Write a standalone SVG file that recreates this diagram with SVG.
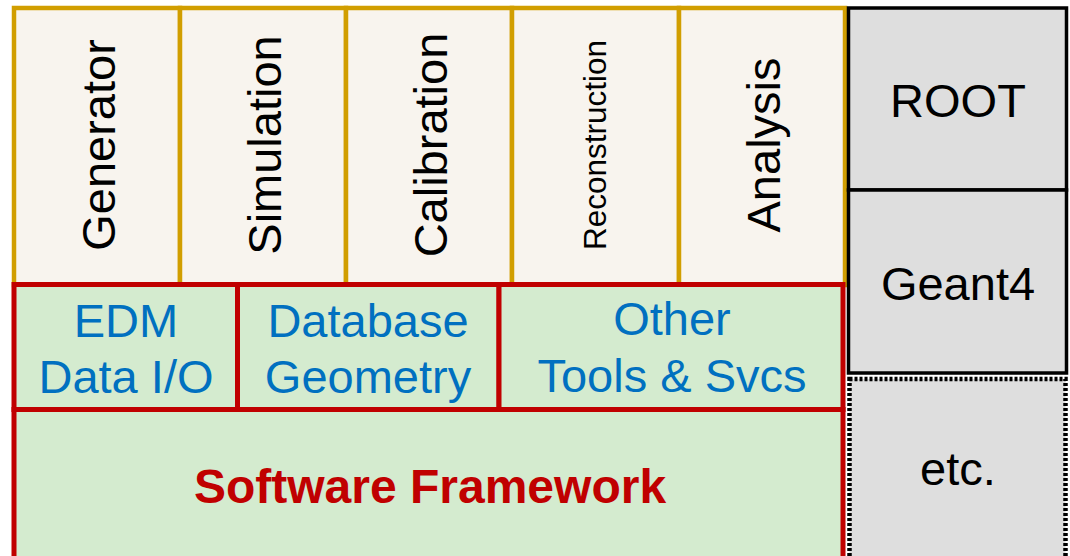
<svg xmlns="http://www.w3.org/2000/svg" width="1070" height="556" viewBox="0 0 1070 556">
  <style>
    .app { fill: #F8F4EE; stroke: #D19E00; stroke-width: 4.5; }
    .svc { fill: #D4EBCF; stroke: #C00000; stroke-width: 5; }
    .ext { fill: #DEDEDE; stroke: #000000; stroke-width: 3.5; }
    .ext-dot { fill: #DEDEDE; stroke: #000000; stroke-width: 4.5; stroke-dasharray: 3 2; }
    text { font-family: "Liberation Sans", Arial, sans-serif; }
    .vlabel { font-size: 47px; fill: #000000; text-anchor: middle; }
    .blue { font-size: 47px; fill: #0070C0; text-anchor: middle; }
    .black { font-size: 47px; fill: #000000; text-anchor: middle; }
    .frame { font-size: 48px; font-weight: bold; fill: #C00000; text-anchor: middle; }
  </style>

  <!-- application layer: five vertical modules -->
  <g id="generator">
    <rect class="app" x="14" y="8" width="166" height="277"/>
    <text class="vlabel" transform="translate(115,145) rotate(-90)">Generator</text>
  </g>
  <g id="simulation">
    <rect class="app" x="180" y="8" width="166" height="277"/>
    <text class="vlabel" transform="translate(281,145) rotate(-90)">Simulation</text>
  </g>
  <g id="calibration">
    <rect class="app" x="346" y="8" width="166" height="277"/>
    <text class="vlabel" transform="translate(447,145) rotate(-90)">Calibration</text>
  </g>
  <g id="reconstruction">
    <rect class="app" x="512" y="8" width="167" height="277"/>
    <text class="vlabel" style="font-size:31.5px" transform="translate(606,145) rotate(-90)">Reconstruction</text>
  </g>
  <g id="analysis">
    <rect class="app" x="679" y="8" width="166" height="277"/>
    <text class="vlabel" transform="translate(780,145) rotate(-90)">Analysis</text>
  </g>

  <!-- core services layer -->
  <g id="framework">
    <rect class="svc" x="14" y="409.5" width="829" height="160"/>
    <text class="frame" x="430" y="503">Software Framework</text>
  </g>
  <g id="edm">
    <rect class="svc" x="14" y="284.5" width="223.5" height="125"/>
    <text class="blue" x="126" y="337">EDM</text>
    <text class="blue" x="126" y="393">Data I/O</text>
  </g>
  <g id="database">
    <rect class="svc" x="237.5" y="284.5" width="261.5" height="125"/>
    <text class="blue" x="368" y="337">Database</text>
    <text class="blue" x="368" y="393">Geometry</text>
  </g>
  <g id="tools">
    <rect class="svc" x="499" y="284.5" width="344" height="125"/>
    <text class="blue" x="672" y="335">Other</text>
    <text class="blue" x="672" y="392">Tools &amp; Svcs</text>
  </g>

  <!-- external libraries -->
  <g id="root">
    <rect class="ext" x="848.5" y="8" width="218" height="182"/>
    <text class="black" x="958" y="117">ROOT</text>
  </g>
  <g id="geant4">
    <rect class="ext" x="848.5" y="190" width="218" height="183"/>
    <text class="black" x="958" y="300">Geant4</text>
  </g>
  <g id="etc">
    <rect class="ext-dot" x="849.5" y="379" width="216" height="190"/>
    <text class="black" x="958" y="485">etc.</text>
  </g>

  <g id="connectors"></g>
</svg>
